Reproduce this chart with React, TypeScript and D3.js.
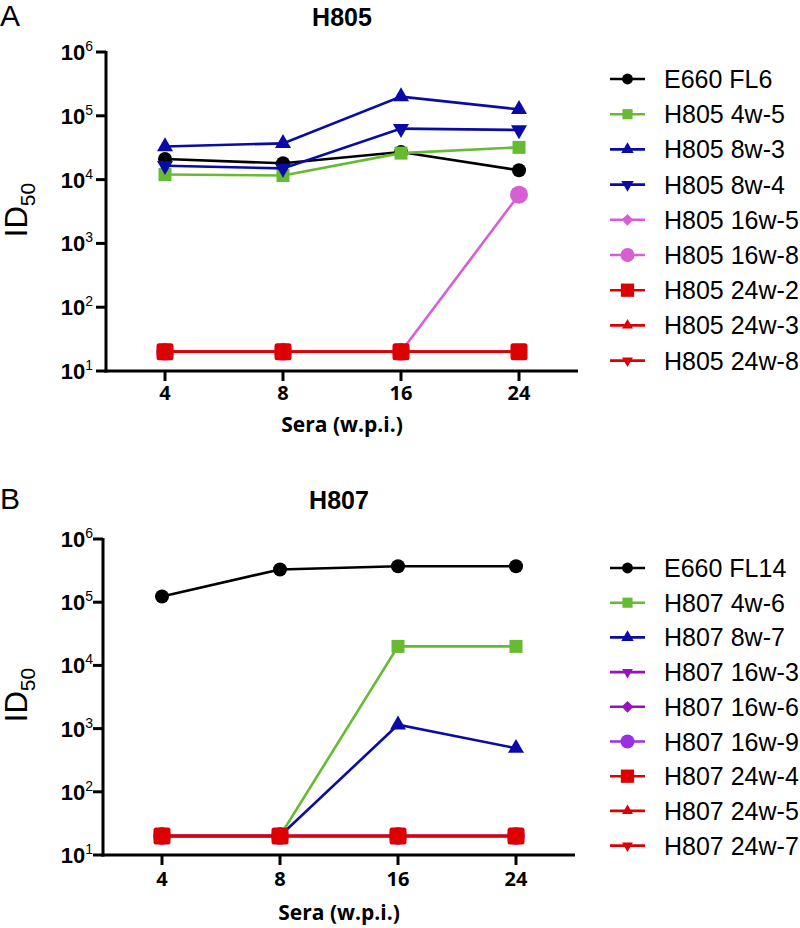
import * as d3 from "d3";

const weeks = ["4", "8", "16", "24"];
const yExponents = [1, 2, 3, 4, 5, 6];

// Panel A: H805
const e660FL6 = [21000, 18000, 27000, 14000];
const h805w4_5 = [12000, 11600, 26000, 32000];
const h805w8_3 = [33000, 37000, 200000, 126000];
const h805w8_4 = [16500, 15000, 63000, 60000];
const h805w16_5 = [20, 20, 20, 20];
const h805w16_8 = [20, 20, 20, 5800];
const h805w24_2 = [20, 20, 20, 20];
const h805w24_3 = [20, 20, 20, 20];
const h805w24_8 = [20, 20, 20, 20];

// Panel B: H807
const e660FL14 = [123000, 330000, 370000, 370000];
const h807w4_6 = [20, 20, 20000, 20000];
const h807w8_7 = [20, 20, 1150, 490];
const h807w16_3 = [20, 20, 20, 20];
const h807w16_6 = [20, 20, 20, 20];
const h807w16_9 = [20, 20, 20, 20];
const h807w24_4 = [20, 20, 20, 20];
const h807w24_5 = [20, 20, 20, 20];
const h807w24_7 = [20, 20, 20, 20];

const BLACK = "#000000";
const GREEN = "#66bb33";
const BLUE = "#0a0aa8";
const PINK = "#d65fd3";
const PURPLE = "#9a10c0";
const VIOLET = "#9b30e0";
const RED = "#dd0000";

const seriesA = [
  { name: "E660 FL6", values: e660FL6, color: BLACK, shape: "circle", size: 7 },
  { name: "H805 4w-5", values: h805w4_5, color: GREEN, shape: "square", size: 13 },
  { name: "H805 8w-3", values: h805w8_3, color: BLUE, shape: "up", size: 16 },
  { name: "H805 8w-4", values: h805w8_4, color: BLUE, shape: "down", size: 16 },
  { name: "H805 16w-5", values: h805w16_5, color: PINK, shape: "diamond", size: 15 },
  { name: "H805 16w-8", values: h805w16_8, color: PINK, shape: "circle", size: 9 },
  { name: "H805 24w-2", values: h805w24_2, color: RED, shape: "square", size: 17 },
  { name: "H805 24w-3", values: h805w24_3, color: RED, shape: "up", size: 14 },
  { name: "H805 24w-8", values: h805w24_8, color: RED, shape: "down", size: 14 },
];

const seriesB = [
  { name: "E660 FL14", values: e660FL14, color: BLACK, shape: "circle", size: 7 },
  { name: "H807 4w-6", values: h807w4_6, color: GREEN, shape: "square", size: 13 },
  { name: "H807 8w-7", values: h807w8_7, color: BLUE, shape: "up", size: 16 },
  { name: "H807 16w-3", values: h807w16_3, color: PURPLE, shape: "down", size: 14 },
  { name: "H807 16w-6", values: h807w16_6, color: PURPLE, shape: "diamond", size: 15 },
  { name: "H807 16w-9", values: h807w16_9, color: VIOLET, shape: "circle", size: 9 },
  { name: "H807 24w-4", values: h807w24_4, color: RED, shape: "square", size: 17 },
  { name: "H807 24w-5", values: h807w24_5, color: RED, shape: "up", size: 14 },
  { name: "H807 24w-7", values: h807w24_7, color: RED, shape: "down", size: 14 },
];

function Marker({ shape, size, color, x, y, scale = 1 }) {
  const s = size * scale;
  if (shape === "circle") return <circle cx={x} cy={y} r={s} fill={color} />;
  if (shape === "square")
    return <rect x={x - s / 2} y={y - s / 2} width={s} height={s} rx={s > 14 ? 2.5 : 0} fill={color} />;
  const h = s * 0.87;
  let d = "";
  if (shape === "up") d = `M${x},${y - (h * 2) / 3}L${x + s / 2},${y + h / 3}L${x - s / 2},${y + h / 3}Z`;
  if (shape === "down") d = `M${x},${y + (h * 2) / 3}L${x + s / 2},${y - h / 3}L${x - s / 2},${y - h / 3}Z`;
  if (shape === "diamond") d = `M${x},${y - s / 2}L${x + s / 2},${y}L${x},${y + s / 2}L${x - s / 2},${y}Z`;
  return <path d={d} fill={color} />;
}

function Panel({ letter, title, series, L }) {
  const x = d3.scalePoint().domain(weeks).range([L.xL, L.xR]).padding(0.5);
  const y = d3.scaleLog().domain([10, 1e6]).range([L.yBot, L.yTop]);
  const line = d3
    .line<number>()
    .x((_, i) => x(weeks[i]))
    .y((d) => y(d));
  const xMid = (L.xL + L.xR) / 2;

  return (
    <g>
      <text x={0} y={L.titleY} fontFamily="Liberation Sans, Arial, sans-serif" fontSize={30}>
        {letter}
      </text>
      <text x={xMid} y={L.titleY} textAnchor="middle" fontFamily="Liberation Sans, Arial, sans-serif" fontWeight="bold" fontSize={25}>
        {title}
      </text>

      {/* axes */}
      <line x1={L.xL} x2={L.xL} y1={L.yTop - 1} y2={L.yBot + 1.5} stroke="#000" strokeWidth={3} />
      <line x1={L.xL - 1.5} x2={L.xR} y1={L.yBot} y2={L.yBot} stroke="#000" strokeWidth={3} />
      {yExponents.map((e) => (
        <g key={e}>
          <line x1={L.xL - 10} x2={L.xL} y1={y(Math.pow(10, e))} y2={y(Math.pow(10, e))} stroke="#000" strokeWidth={3} />
          <text x={93} y={y(Math.pow(10, e)) + 8} textAnchor="end" fontFamily="Liberation Sans, Arial, sans-serif" fontWeight="bold" fontSize={22}>
            <tspan>10</tspan>
            <tspan dy={-9} fontSize={14} fontWeight="normal">{e}</tspan>
          </text>
        </g>
      ))}
      {weeks.map((w) => (
        <g key={w}>
          <line x1={x(w)} x2={x(w)} y1={L.yBot} y2={L.yBot + 10} stroke="#000" strokeWidth={3} />
          <text x={x(w)} y={L.tickY} textAnchor="middle" fontFamily="Open Sans, sans-serif" fontWeight="bold" fontSize={20}>
            {w}
          </text>
        </g>
      ))}
      <text x={xMid} y={L.xLabelY} textAnchor="middle" fontFamily="Open Sans, sans-serif" fontWeight="bold" fontSize={21}>
        Sera (w.p.i.)
      </text>
      <text
        transform={`translate(${27},${L.yLabelC}) rotate(-90)`}
        textAnchor="middle"
        fontFamily="Liberation Sans, Arial, sans-serif"
        fontSize={31}
      >
        <tspan>ID</tspan>
        <tspan dy={8} fontSize={21}>50</tspan>
      </text>

      {/* series */}
      {series.map((s) => (
        <g key={s.name}>
          <path d={line(s.values)} fill="none" stroke={s.color} strokeWidth={2.6} />
          {s.values.map((v, i) => (
            <Marker key={i} shape={s.shape} size={s.size} color={s.color} x={x(weeks[i])} y={y(v)} />
          ))}
        </g>
      ))}

      {/* legend */}
      {series.map((s, i) => {
        const ly = L.legY + i * L.legStep;
        return (
          <g key={s.name}>
            <line x1={610} x2={645} y1={ly} y2={ly} stroke={s.color} strokeWidth={2.6} />
            <Marker shape={s.shape} size={s.size} color={s.color} x={627.5} y={ly} scale={0.78} />
            <text x={664} y={ly + 9} fontFamily="Liberation Sans, Arial, sans-serif" fontSize={25}>
              {s.name}
            </text>
          </g>
        );
      })}
    </g>
  );
}

const layoutA = {
  xL: 106, xR: 578, yTop: 52, yBot: 371, titleY: 26, tickY: 400, xLabelY: 432, yLabelC: 210, legY: 79, legStep: 35.2,
};
const layoutB = {
  xL: 103, xR: 575, yTop: 539, yBot: 855, titleY: 509, tickY: 886, xLabelY: 920, yLabelC: 695, legY: 568, legStep: 34.7,
};

export default function App() {
  return (
    <svg width={800} height={928} style={{ position: "absolute", left: 0, top: 0, background: "#fff" }}>
      <Panel letter="A" title="H805" series={seriesA} L={layoutA} />
      <Panel letter="B" title="H807" series={seriesB} L={layoutB} />
    </svg>
  );
}
